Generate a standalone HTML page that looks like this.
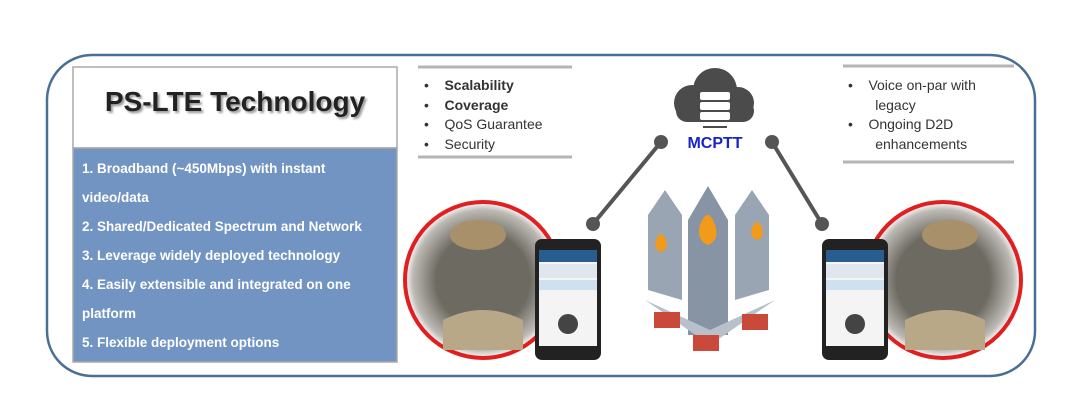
<!DOCTYPE html>
<html><head><style>
body{margin:0;width:1080px;height:408px;background:#fff;overflow:hidden;font-family:"Liberation Sans",sans-serif}
svg{position:absolute;left:0;top:0}
.t{position:absolute;font-size:14px;color:#333;line-height:19.5px}
.b{position:absolute;left:82px;color:#fff;font-weight:bold;font-size:13.5px}
</style></head><body>
<svg width="1080" height="408">
<defs>
<radialGradient id="pg" cx="50%" cy="50%" r="50%"><stop offset="0.6" stop-color="#6d6a62"/><stop offset="0.9" stop-color="#bdbab5"/><stop offset="1" stop-color="#fff"/></radialGradient>
</defs>
<rect x="47" y="55" width="988" height="321" rx="45" fill="#fff" stroke="#4a6f95" stroke-width="2.5"/>
<rect x="73" y="67" width="324" height="81" fill="#fff" stroke="#aaa" stroke-width="1.5"/>
<rect x="73" y="148" width="324" height="214" fill="#7294c2" stroke="#aaa" stroke-width="1.5"/>
<line x1="418" y1="67" x2="572" y2="67" stroke="#b5b5b5" stroke-width="3"/>
<line x1="418" y1="157" x2="572" y2="157" stroke="#b5b5b5" stroke-width="3"/>
<line x1="843" y1="66" x2="1014" y2="66" stroke="#b5b5b5" stroke-width="3"/>
<line x1="843" y1="162" x2="1014" y2="162" stroke="#b5b5b5" stroke-width="3"/>
<g fill="#4b4b4b">
<circle cx="692" cy="103" r="18"/><circle cx="715" cy="90" r="22"/><circle cx="738" cy="103" r="16"/>
<rect x="676" y="100" width="78" height="22" rx="11"/>
</g>
<g fill="#fff"><rect x="700" y="92" width="30" height="8" rx="2"/><rect x="700" y="102" width="30" height="8" rx="2"/><rect x="700" y="112" width="30" height="8" rx="2"/></g>
<rect x="703" y="126" width="24" height="2" fill="#4b4b4b"/>
<g stroke="#555" stroke-width="4"><line x1="661" y1="142" x2="593" y2="224"/><line x1="772" y1="142" x2="822" y2="224"/></g>
<g fill="#555"><circle cx="661" cy="142" r="7"/><circle cx="593" cy="224" r="7"/><circle cx="772" cy="142" r="7"/><circle cx="822" cy="224" r="7"/></g>
<circle cx="483" cy="280" r="78" fill="url(#pg)" stroke="#e02020" stroke-width="4"/>
<circle cx="943" cy="280" r="78" fill="url(#pg)" stroke="#e02020" stroke-width="4"/>
<ellipse cx="478" cy="235" rx="28" ry="15" fill="#a8906a"/><ellipse cx="950" cy="235" rx="28" ry="15" fill="#a8906a"/>
<path d="M443 320 Q483 300 523 320 L523 350 L443 350Z" fill="#b8a888"/>
<path d="M905 320 Q945 300 985 320 L985 350 L905 350Z" fill="#b8a888"/>
<g>
<rect x="535" y="239" width="66" height="121" rx="7" fill="#222"/>
<rect x="539" y="250" width="58" height="96" fill="#f4f4f4"/>
<rect x="539" y="250" width="58" height="12" fill="#2a5d8f"/>
<rect x="539" y="264" width="58" height="14" fill="#dfe6ee"/>
<rect x="539" y="280" width="58" height="10" fill="#cfe0f0"/>
<circle cx="568" cy="324" r="10" fill="#444"/>
<rect x="822" y="239" width="66" height="121" rx="7" fill="#222"/>
<rect x="826" y="250" width="58" height="96" fill="#f4f4f4"/>
<rect x="826" y="250" width="58" height="12" fill="#2a5d8f"/>
<rect x="826" y="264" width="58" height="14" fill="#dfe6ee"/>
<rect x="826" y="280" width="58" height="10" fill="#cfe0f0"/>
<circle cx="855" cy="324" r="10" fill="#444"/>
</g>
<g>
<polygon points="648,215 665,190 682,215 682,300 648,290" fill="#9aa5b3"/>
<polygon points="735,215 752,190 769,215 769,290 735,300" fill="#9aa5b3"/>
<polygon points="688,220 708,186 728,220 728,335 688,335" fill="#8794a4"/>
<polygon points="645,300 710,330 775,300 710,345" fill="#b8c0ca"/>
<path d="M700 225 q8 -20 15 0 q5 15 -7 20 q-12 -5 -8 -20z" fill="#f29a1a"/>
<path d="M656 240 q5 -12 10 0 q3 10 -5 12 q-8 -3 -5 -12z" fill="#f29a1a"/>
<path d="M752 228 q5 -12 10 0 q3 10 -5 12 q-8 -3 -5 -12z" fill="#f29a1a"/>
<rect x="654" y="312" width="26" height="16" fill="#c9493a"/>
<rect x="693" y="335" width="26" height="16" fill="#c9493a"/>
<rect x="742" y="314" width="26" height="16" fill="#c9493a"/>
</g>
</svg>
<div style="position:absolute;left:73px;top:86px;width:324px;text-align:center;font-size:28px;font-weight:bold;color:#222;text-shadow:2px 2px 2px #999">PS-LTE Technology</div>
<div class="b" style="top:161px">1. Broadband (~450Mbps) with instant</div>
<div class="b" style="top:190px">video/data</div>
<div class="b" style="top:219px">2. Shared/Dedicated Spectrum and Network</div>
<div class="b" style="top:248px">3. Leverage widely deployed technology</div>
<div class="b" style="top:277px">4. Easily extensible and integrated on one</div>
<div class="b" style="top:306px">platform</div>
<div class="b" style="top:335px">5. Flexible deployment options</div>
<div class="t" style="left:424px;top:76px">•&nbsp;&nbsp;&nbsp;&nbsp;<b>Scalability</b><br>•&nbsp;&nbsp;&nbsp;&nbsp;<b>Coverage</b><br>•&nbsp;&nbsp;&nbsp;&nbsp;QoS Guarantee<br>•&nbsp;&nbsp;&nbsp;&nbsp;Security</div>
<div class="t" style="left:848px;top:76px">•&nbsp;&nbsp;&nbsp;&nbsp;Voice on-par with<br>&nbsp;&nbsp;&nbsp;&nbsp;&nbsp;&nbsp;&nbsp;legacy<br>•&nbsp;&nbsp;&nbsp;&nbsp;Ongoing D2D<br>&nbsp;&nbsp;&nbsp;&nbsp;&nbsp;&nbsp;&nbsp;enhancements</div>
<div style="position:absolute;left:680px;top:135px;width:70px;text-align:center;color:#1a22c8;font-weight:bold;font-size:16px">MCPTT</div>
</body></html>
